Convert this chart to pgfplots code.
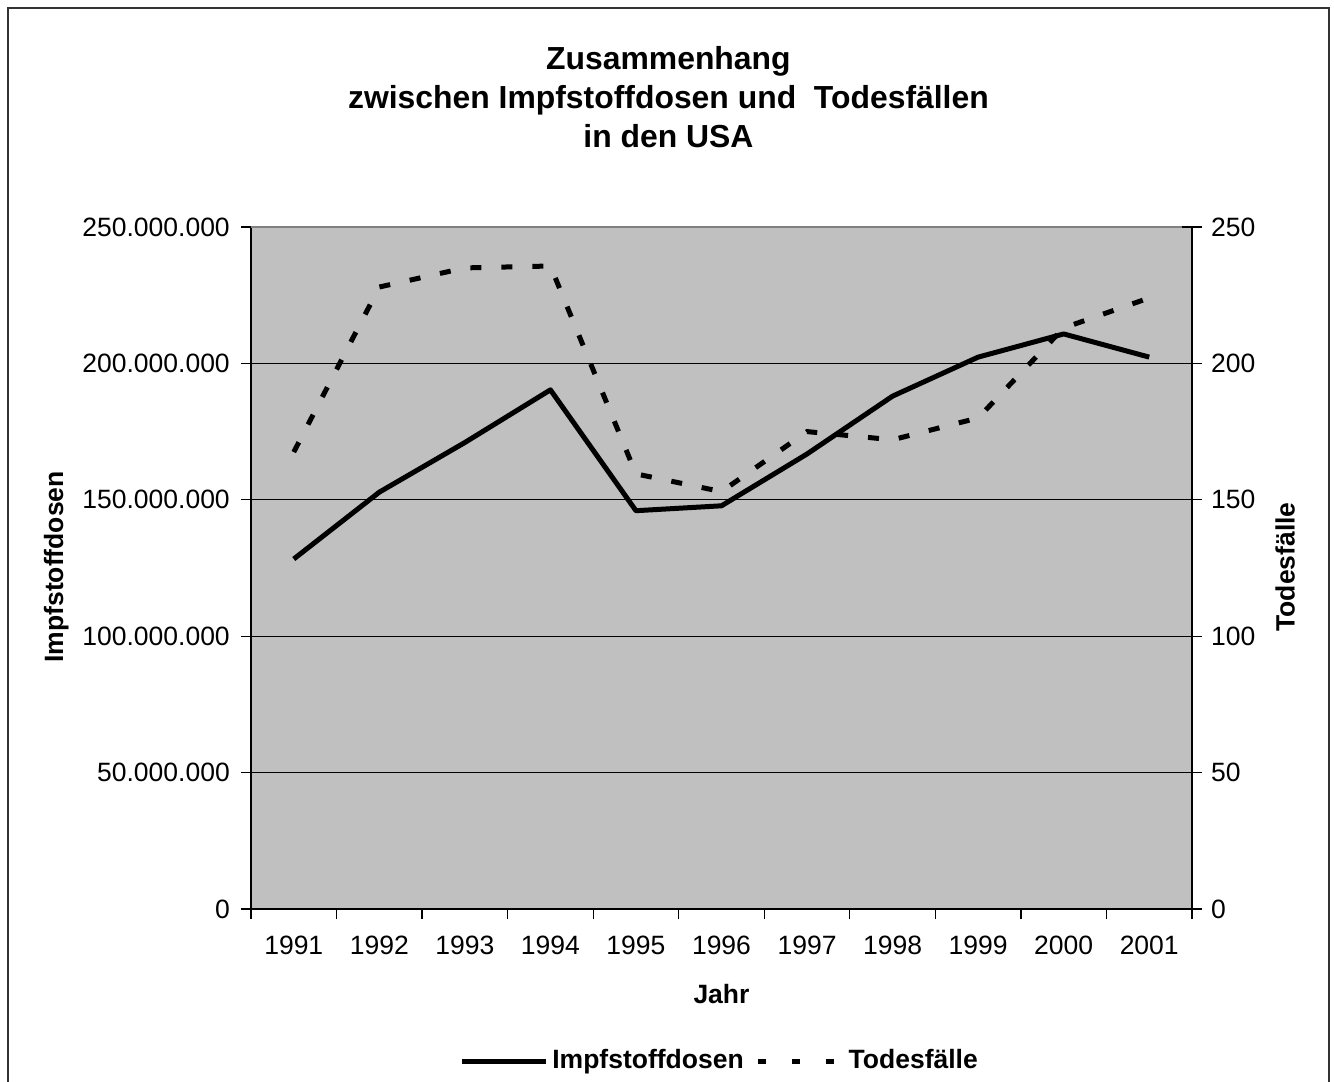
\documentclass[border=0pt]{standalone}
\usepackage{pgfplots}
\pgfplotsset{compat=1.18}
\usepackage{fontspec}
\setmainfont{Liberation Sans}
\definecolor{plotgray}{RGB}{192,192,192}
\definecolor{bordergray}{RGB}{128,128,128}
\begin{document}
\fontsize{13.3}{16}\selectfont
\begin{tikzpicture}
\useasboundingbox (-125.5bp,-86.5bp) rectangle (541.5bp,454.5bp);
\draw[line width=1bp, black!80] (-121.5bp,-90bp) -- (-121.5bp,450.5bp) -- (539bp,450.5bp) -- (539bp,-90bp);
\begin{axis}[
  at={(0,0)}, anchor=south west,
  scale only axis, width=470.5bp, height=341bp,
  xmin=-0.5, xmax=10.5,
  ymin=0, ymax=250000000,
  axis x line*=bottom, axis y line*=left,
  axis line style={black, line width=0.8bp},
  axis background/.style={fill=plotgray},
  xtick={-0.5,0.5,1.5,2.5,3.5,4.5,5.5,6.5,7.5,8.5,9.5,10.5},
  x tick label as interval,
  xticklabels={1991,1992,1993,1994,1995,1996,1997,1998,1999,2000,2001},
  xticklabel style={yshift=-4bp},
  x tick style={black, line width=0.6bp},
  ytick={0,50000000,100000000,150000000,200000000,250000000},
  scaled y ticks=false,
  yticklabel style={/pgf/number format/fixed, /pgf/number format/1000 sep={.}, xshift=-1bp},
  /pgf/number format/assume math mode=true,
  y tick style={black, line width=0.6bp},
  tick align=outside, major tick length=5bp,
  extra y ticks={50000000,100000000,150000000,200000000},
  extra y tick labels={},
  extra y tick style={grid=major, major grid style={black, line width=0.5bp}, major tick length=0bp},
  xlabel={\textbf{Jahr}},
  xlabel style={at={(axis description cs:0.5,-0.1246)}, anchor=center},
  ylabel={\textbf{Impfstoffdosen}},
  ylabel style={at={(axis description cs:-0.207,0.5015)}, anchor=center},
  legend style={at={(axis description cs:0.499,-0.223)}, anchor=center, draw=none, fill=none,
    legend columns=2, font=\bfseries, /tikz/every even column/.append style={column sep=4bp}},
  legend image code/.code={\draw[#1] (0bp,0bp) -- (42bp,0bp);},
  clip=false,
]
\draw[bordergray, line width=0.8bp] (rel axis cs:0,1) -- (rel axis cs:1,1);
\addplot[black, line width=2.5bp, line join=round] coordinates {
(0,128300000) (1,152800000) (2,171000000) (3,190300000) (4,146000000) (5,147800000)
(6,166800000) (7,188000000) (8,202300000) (9,210800000) (10,202300000)};
\addlegendentry{Impfstoffdosen}
\addlegendimage{black, line width=2.5bp, dash pattern=on 4bp off 13bp}
\addlegendentry{Todesfälle}
\node[font={\bfseries\fontsize{16}{19.5}\selectfont}, align=center, inner sep=0pt] at (axis description cs:0.4436,1.19)
  {Zusammenhang\\zwischen Impfstoffdosen und\ \ Todesfällen\\in den USA};
\end{axis}
\begin{axis}[
  at={(0,0)}, anchor=south west,
  scale only axis, width=470.5bp, height=341bp,
  xmin=-0.5, xmax=10.5,
  ymin=0, ymax=250,
  axis x line=none, axis y line*=right,
  axis line style={black, line width=0.8bp},
  ytick={0,50,100,150,200,250},
  yticklabel style={xshift=0bp},
  /pgf/number format/assume math mode=true,
  y tick style={black, line width=0.6bp},
  tick align=center, major tick length=10bp,
  ylabel={\textbf{Todesfälle}},
  ylabel style={at={(axis description cs:1.099,0.5015)}, anchor=center},
  clip=false,
]
\addplot[black, line width=2.5bp, dash pattern=on 5.5bp off 10bp] coordinates {
(0,167.5) (1,228) (2,235) (3,235.7) (4,159.5) (5,153)
(6,175) (7,172) (8,180) (9,213) (10,224)};
\end{axis}
\end{tikzpicture}
\end{document}
